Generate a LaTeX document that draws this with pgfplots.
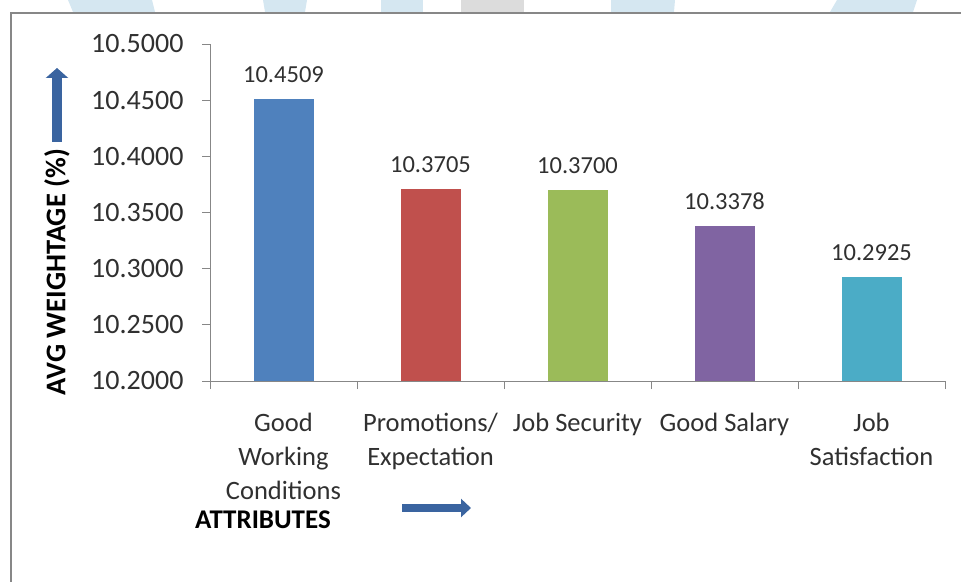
\documentclass[border=0pt]{standalone}
\usepackage{fontspec}
\setmainfont{Carlito}
\usepackage{pgfplots}
\pgfplotsset{compat=1.18}
\usetikzlibrary{arrows.meta}
\definecolor{cA}{HTML}{4F81BD}
\definecolor{cB}{HTML}{C0504D}
\definecolor{cC}{HTML}{9BBB59}
\definecolor{cD}{HTML}{8064A2}
\definecolor{cE}{HTML}{4BACC6}
\definecolor{arr}{HTML}{3A64A0}
\definecolor{axgray}{HTML}{878787}
\definecolor{txt}{HTML}{303030}
\definecolor{wmblue}{HTML}{D5E7F1}
\definecolor{wmgray}{HTML}{DCDCDC}
\newcommand{\fs}{\fontsize{26.5}{34}\selectfont}
\newcommand{\fy}{\fontsize{28}{33}\selectfont}
\newcommand{\fv}{\fontsize{24.5}{30}\selectfont}
\begin{document}
\begin{tikzpicture}[x=1pt,y=1pt]
\path[use as bounding box] (0,0) rectangle (961,581);
\begin{scope}
\clip (0,0) rectangle (961,581);
% watermark fragments above frame
\fill[wmblue] (68,581) -- (152,581) -- (155,569) -- (73,569) -- cycle;
\fill[wmblue] (263,581) -- (307,581) -- (305,569) -- (265,569) -- cycle;
\fill[wmblue] (381,581) -- (423,581) -- (423,569) -- (381,569) -- cycle;
\fill[wmgray] (461,581) -- (524,581) -- (524,569) -- (461,569) -- cycle;
\fill[wmblue] (611,581) -- (675,581) -- (674,569) -- (611,569) -- cycle;
\fill[wmblue] (837,581) -- (917,581) -- (913,569) -- (830,569) -- cycle;
% frame
\draw[axgray, line width=2.5pt] (11,-10) -- (11,568) -- (975,568);
\end{scope}
\begin{axis}[
  at={(210pt,200pt)}, anchor=south west,
  scale only axis, width=735pt, height=337pt,
  ymin=10.2, ymax=10.5,
  xmin=-0.5, xmax=4.5,
  ytick={10.2,10.25,...,10.5},
  xtick={0,1,2,3,4},
  xticklabels={Good\\Working\\Conditions, Promotions/\\Expectation, Job Security, Good Salary, Job\\Satisfaction},
  minor xtick={-0.5,0.5,1.5,2.5,3.5,4.5},
  major x tick style={draw=none},
  tick align=outside,
  major tick length=8pt, minor tick length=8pt,
  tick style={axgray, line width=0.8pt},
  axis x line*=bottom, axis y line*=left,
  axis line style={-, axgray, line width=0.8pt},
  ybar, bar width=60pt, bar shift=0pt,
  /pgf/number format/.cd, fixed, fixed zerofill, precision=4, assume math mode=true,
  /pgfplots/.cd,
  yticklabel style={font=\fy, text=txt, xshift=-15pt},
  xticklabel style={font=\fs, text=txt, align=center, yshift=-21pt},
  nodes near coords,
  nodes near coords style={font=\fv, text=txt, yshift=13pt, /pgf/number format/.cd, fixed, fixed zerofill, precision=4, assume math mode=true},
  clip=false,
]
\addplot[fill=cA, draw=none] coordinates {(0,10.4509)};
\addplot[fill=cB, draw=none] coordinates {(1,10.3705)};
\addplot[fill=cC, draw=none] coordinates {(2,10.3700)};
\addplot[fill=cD, draw=none] coordinates {(3,10.3378)};
\addplot[fill=cE, draw=none] coordinates {(4,10.2925)};
\end{axis}
\node[rotate=90, font=\fontsize{28.5}{34}\selectfont\bfseries, text=black] at (57,309) {AVG WEIGHTAGE (\%)};
\draw[arr, line width=10pt, -{Triangle[length=10pt, width=22pt]}] (57,439) -- (57,513);
\node[font=\fontsize{27}{33}\selectfont\bfseries, text=black] at (263,61) {ATTRIBUTES};
\draw[arr, line width=8pt, -{Triangle[length=10pt, width=18pt]}] (402,73) -- (471,73);
\end{tikzpicture}
\end{document}
